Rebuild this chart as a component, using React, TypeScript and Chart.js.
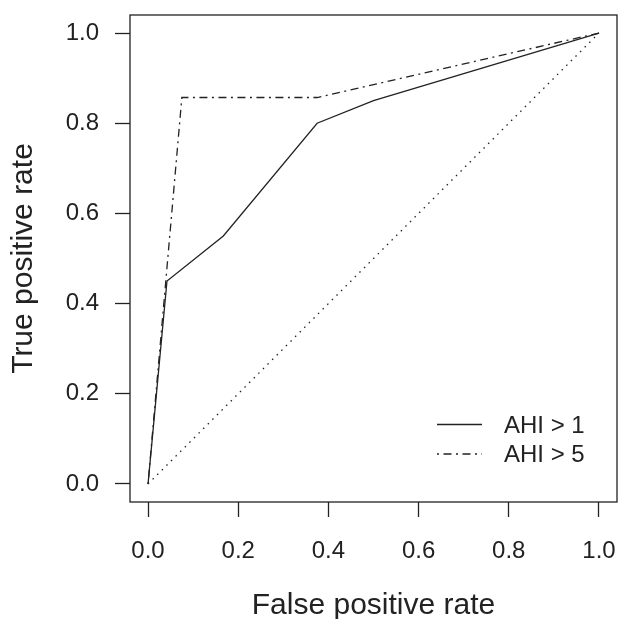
import React, { useEffect, useRef } from "react";
import { Chart, registerables } from "chart.js";

Chart.register(...registerables);

// ---- Data ----
const ahi1Fpr = [0, 0.042, 0.167, 0.375, 0.5, 1.0];
const ahi1Tpr = [0, 0.45, 0.55, 0.8, 0.85, 1.0];
const ahi5Fpr = [0, 0.075, 0.375, 1.0];
const ahi5Tpr = [0, 0.857, 0.857, 1.0];
const chanceFpr = [0, 1];
const chanceTpr = [0, 1];
const tickValues = [0, 0.2, 0.4, 0.6, 0.8, 1.0];
const seriesLabels = ["AHI > 1", "AHI > 5"];
const xTitle = "False positive rate";
const yTitle = "True positive rate";

const INK = "#222222";
const FONT = "'Liberation Sans', Arial, Helvetica, sans-serif";
const DASH_DOT = [2, 4.5, 8, 4.5];
const DOTTED = [1.5, 5];

const toPoints = (xs: number[], ys: number[]) => xs.map((x, i) => ({ x, y: ys[i] }));

const boxPlugin = {
  id: "boxPlugin",
  afterDatasetsDraw(chart: any) {
    const { ctx, chartArea } = chart;
    ctx.save();
    ctx.strokeStyle = INK;
    ctx.lineWidth = 1.3;
    ctx.setLineDash([]);
    ctx.strokeRect(chartArea.left, chartArea.top, chartArea.right - chartArea.left, chartArea.bottom - chartArea.top);
    ctx.restore();
  },
};

const legendPlugin = {
  id: "rLegend",
  afterDraw(chart: any) {
    const { ctx, chartArea } = chart;
    const x1 = chartArea.right - 180;
    const x2 = chartArea.right - 135;
    const tx = chartArea.right - 113;
    const ys = [chartArea.bottom - 77.5, chartArea.bottom - 48];
    const dashes = [[], DASH_DOT];
    ctx.save();
    ctx.strokeStyle = INK;
    ctx.fillStyle = INK;
    ctx.lineWidth = 1.3;
    ctx.font = `24px ${FONT}`;
    ctx.textBaseline = "middle";
    ctx.textAlign = "left";
    seriesLabels.forEach((lab, i) => {
      ctx.setLineDash(dashes[i]);
      ctx.beginPath();
      ctx.moveTo(x1, ys[i]);
      ctx.lineTo(x2, ys[i]);
      ctx.stroke();
      ctx.fillText(lab, tx, ys[i] + 1.5);
    });
    ctx.restore();
  },
};

const makeScale = (title: string, isX: boolean) => ({
  type: "linear" as const,
  min: -0.04,
  max: 1.04,
  afterBuildTicks: (scale: any) => {
    scale.ticks = tickValues.map((v) => ({ value: v }));
  },
  afterFit: (scale: any) => {
    if (isX) scale.height = 117;
    else scale.width = 130;
    scale.paddingTop = 0;
    scale.paddingBottom = 0;
    scale.paddingLeft = 0;
    scale.paddingRight = 0;
  },
  ticks: {
    autoSkip: false,
    maxRotation: 0,
    minRotation: 0,
    color: INK,
    padding: isX ? 20 : 16,
    font: { family: FONT, size: 24 },
    callback: (v: any) => Number(v).toFixed(1),
  },
  grid: {
    display: true,
    drawOnChartArea: false,
    drawTicks: true,
    tickLength: 15,
    tickColor: INK,
    tickWidth: 1.3,
  },
  border: { display: false },
  title: {
    display: true,
    text: title,
    color: INK,
    font: { family: FONT, size: 30, lineHeight: isX ? 0.9 : 1.2 },
    padding: isX ? { top: 0, bottom: 0 } : { top: 6, bottom: 0 },
  },
});

export default function App() {
  const canvasRef = useRef<HTMLCanvasElement | null>(null);

  useEffect(() => {
    if (!canvasRef.current) return;
    const chart = new Chart(canvasRef.current, {
      type: "scatter",
      data: {
        datasets: [
          {
            label: seriesLabels[0],
            data: toPoints(ahi1Fpr, ahi1Tpr),
            showLine: true,
            borderColor: INK,
            borderWidth: 1.3,
            pointRadius: 0,
            tension: 0,
          },
          {
            label: seriesLabels[1],
            data: toPoints(ahi5Fpr, ahi5Tpr),
            showLine: true,
            borderColor: INK,
            borderWidth: 1.3,
            borderDash: DASH_DOT,
            pointRadius: 0,
            tension: 0,
          },
          {
            label: "chance",
            data: toPoints(chanceFpr, chanceTpr),
            showLine: true,
            borderColor: INK,
            borderWidth: 1.3,
            borderDash: DOTTED,
            pointRadius: 0,
            tension: 0,
          },
        ],
      },
      options: {
        animation: false,
        responsive: false,
        maintainAspectRatio: false,
        devicePixelRatio: 1,
        layout: { padding: { top: 15, right: 1, left: 0, bottom: 0 } },
        plugins: {
          legend: { display: false },
          tooltip: { enabled: false },
        },
        scales: {
          x: makeScale(xTitle, true),
          y: makeScale(yTitle, false),
        },
      } as any,
      plugins: [boxPlugin, legendPlugin],
    });
    return () => chart.destroy();
  }, []);

  return (
    <div style={{ position: "absolute", left: 0, top: 0, width: 618, height: 619, background: "#fff" }}>
      <canvas ref={canvasRef} width={618} height={619} style={{ display: "block" }} />
    </div>
  );
}
